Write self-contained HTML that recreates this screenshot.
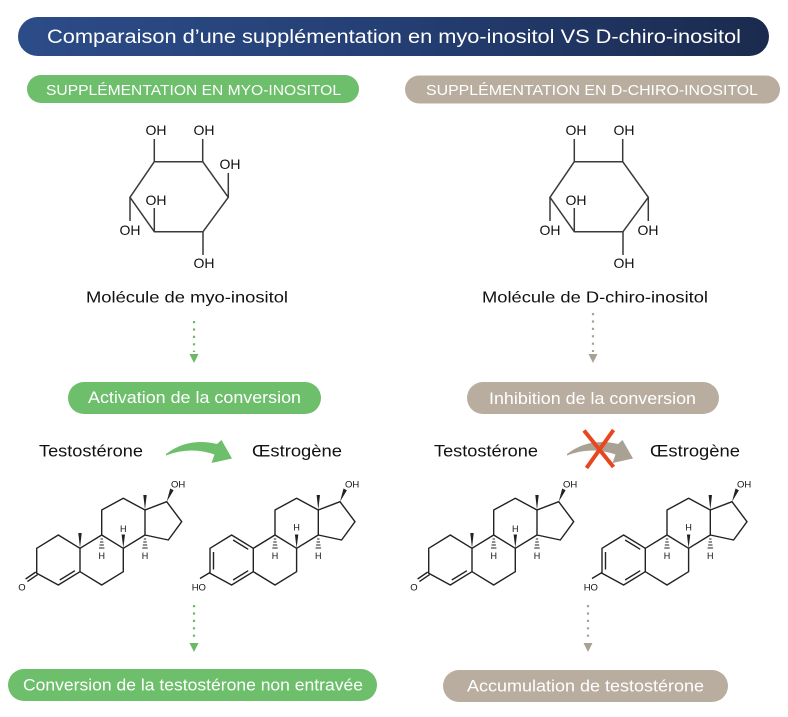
<!DOCTYPE html>
<html>
<head>
<meta charset="utf-8">
<style>
  html,body{margin:0;padding:0;background:#fff;}
  svg{display:block;}
  text{font-family:"Liberation Sans","DejaVu Sans",sans-serif;}
</style>
</head>
<body>
<svg width="788" height="717" viewBox="0 0 788 717" xmlns="http://www.w3.org/2000/svg">
  <defs>
    <linearGradient id="tg" x1="0" y1="0" x2="1" y2="0">
      <stop offset="0" stop-color="#2c4c88"/>
      <stop offset="0.5" stop-color="#243f74"/>
      <stop offset="1" stop-color="#1b2a4e"/>
    </linearGradient>
  </defs>
  <rect width="788" height="717" fill="#fff"/>

  <!-- Title bar -->
  <rect x="18" y="17" width="751" height="39" rx="19.5" fill="url(#tg)"/>
  <text x="47" y="43" font-size="19" fill="#fff" textLength="694" lengthAdjust="spacingAndGlyphs">Comparaison d’une supplémentation en myo-inositol VS D-chiro-inositol</text>

  <!-- Top pills -->
  <rect x="27" y="75" width="332" height="28" rx="14" fill="#6dbf6b"/>
  <text x="46" y="95" font-size="15" fill="#fff" textLength="295" lengthAdjust="spacingAndGlyphs">SUPPLÉMENTATION EN MYO-INOSITOL</text>
  <rect x="405" y="75.5" width="375" height="28" rx="14" fill="#b8ad9e"/>
  <text x="426" y="95" font-size="15" fill="#fff" textLength="332" lengthAdjust="spacingAndGlyphs">SUPPLÉMENTATION EN D-CHIRO-INOSITOL</text>

  <!-- Myo-inositol -->
  <g stroke="#3a3a3a" stroke-width="1.5" fill="none" stroke-linejoin="round">
    <path d="M154.3,161.7 L202.7,161.7 L228.3,197.3 L203,231.7 L154.3,231.7 L130,197.3 Z"/>
    <path d="M154.3,161.7 V139 M202.7,161.7 V139 M228.3,197.3 V173 M154.3,231.7 V208 M130,197.3 V221 M203,231.7 V255"/>
  </g>
  <g font-size="14" fill="#111" text-anchor="middle">
    <text x="156" y="135">OH</text>
    <text x="204" y="135">OH</text>
    <text x="230" y="169">OH</text>
    <text x="156" y="205">OH</text>
    <text x="130" y="235">OH</text>
    <text x="204" y="268">OH</text>
  </g>

  <!-- D-chiro-inositol -->
  <g stroke="#3a3a3a" stroke-width="1.5" fill="none" stroke-linejoin="round">
    <path d="M574.3,161.7 L622.7,161.7 L648.3,197.3 L623,231.7 L574.3,231.7 L550,197.3 Z"/>
    <path d="M574.3,161.7 V139 M622.7,161.7 V139 M648.3,197.3 V221 M574.3,231.7 V208 M550,197.3 V221 M623,231.7 V255"/>
  </g>
  <g font-size="14" fill="#111" text-anchor="middle">
    <text x="576" y="135">OH</text>
    <text x="624" y="135">OH</text>
    <text x="648" y="235">OH</text>
    <text x="576" y="205">OH</text>
    <text x="550" y="235">OH</text>
    <text x="624" y="268">OH</text>
  </g>

  <!-- Molecule labels -->
  <text x="86" y="302.7" font-size="16" fill="#111" textLength="202" lengthAdjust="spacingAndGlyphs">Molécule de myo-inositol</text>
  <text x="482" y="302.7" font-size="16" fill="#111" textLength="226" lengthAdjust="spacingAndGlyphs">Molécule de D-chiro-inositol</text>

  <!-- Dotted arrows top -->
  <line x1="194" y1="321" x2="194" y2="352" stroke="#6cb86a" stroke-width="2.2" stroke-dasharray="2.2 5.2"/>
  <polygon points="189.5,354 198.5,354 194,363" fill="#6cb86a"/>
  <line x1="593" y1="313" x2="593" y2="352" stroke="#aaa195" stroke-width="2.2" stroke-dasharray="2.2 5.2"/>
  <polygon points="588.5,354 597.5,354 593,363" fill="#aaa195"/>

  <!-- Mid pills -->
  <rect x="68" y="382" width="253" height="32" rx="16" fill="#6dbf6b"/>
  <text x="88" y="403" font-size="16.5" fill="#fff" textLength="213" lengthAdjust="spacingAndGlyphs">Activation de la conversion</text>
  <rect x="467" y="382" width="252" height="32" rx="16" fill="#b8ad9e"/>
  <text x="489" y="404" font-size="16.5" fill="#fff" textLength="207" lengthAdjust="spacingAndGlyphs">Inhibition de la conversion</text>

  <!-- Testosterone / Oestrogen labels -->
  <text x="39" y="456.7" font-size="17" fill="#111" textLength="104" lengthAdjust="spacingAndGlyphs">Testostérone</text>
  <text x="252" y="456.7" font-size="17" fill="#111" textLength="90" lengthAdjust="spacingAndGlyphs">Œstrogène</text>
  <text x="434" y="456.7" font-size="17" fill="#111" textLength="104" lengthAdjust="spacingAndGlyphs">Testostérone</text>
  <text x="650" y="456.7" font-size="17" fill="#111" textLength="90" lengthAdjust="spacingAndGlyphs">Œstrogène</text>

  <!-- Curved arrows -->
  <path d="M166,454 Q188,437 217,444 L221.5,440 L232,458.5 L211.5,463 L214.5,454.5 Q190,446 166,455.5 Z" fill="#6dbf6b"/>
  <path d="M567,454 Q589,437 618,444 L622.5,440 L633,458.5 L612.5,463 L615.5,454.5 Q591,446 567,455.5 Z" fill="#aaa195"/>
  <!-- Red X -->
  <g stroke="#e8461e" stroke-width="4" stroke-linecap="butt">
    <line x1="584" y1="430.5" x2="613.5" y2="467"/>
    <line x1="613.5" y1="430" x2="586.5" y2="468"/>
  </g>

  <!-- ===== Testosterone left ===== -->
  <g transform="translate(0,0)">
    <g stroke="#222" stroke-width="1.4" fill="none" stroke-linejoin="round">
      <path d="M80,548.3 L58.3,535 L36.7,548.3 L36.7,573.3 L58.3,585 L80,571.7 Z"/>
      <path d="M59.8,580 L74.9,570.7"/>
      <path d="M37.6,574.6 L27.4,581.6 M35.8,572 L25.6,579"/>
      <path d="M80,548.3 L101.7,535 L123.3,548.3 L123.3,571.7 L101.7,585 L80,571.7"/>
      <path d="M101.7,535 L101.7,510 L123.3,498.3 L145,510 L145,535 L123.3,548.3"/>
      <path d="M145,510 L166.7,501.7 L181.7,521.7 L168.3,540 L145,535"/>
      <path d="M100.5,539 h2.4 M100,542 h3.4 M99.5,545 h4.4 M99,548 h5.4" stroke-width="1"/>
      <path d="M143.8,539 h2.4 M143.3,542 h3.4 M142.8,545 h4.4 M142.3,548 h5.4" stroke-width="1"/>
    </g>
    <g fill="#222">
      <polygon points="80,548.3 78.3,533 81.7,533"/>
      <polygon points="145,510 143.3,495 146.7,495"/>
      <polygon points="166.7,501.7 170.2,488.5 173.6,490.2"/>
      <polygon points="123.3,548.3 121.6,534.5 125,534.5"/>
    </g>
    <g font-size="9.5" fill="#111">
      <text x="18.3" y="590.5">O</text>
      <text x="171" y="487.5">OH</text>
    </g>
    <g font-size="9" fill="#111" text-anchor="middle">
      <text x="101.7" y="558.8">H</text>
      <text x="123.3" y="532">H</text>
      <text x="145" y="558.8">H</text>
    </g>
  </g>

  <!-- ===== Estradiol left ===== -->
  <g transform="translate(173.3,0)">
    <g stroke="#222" stroke-width="1.4" fill="none" stroke-linejoin="round">
      <path d="M80,548.3 L58.3,535 L36.7,548.3 L36.7,573.3 L58.3,585 L80,571.7 Z"/>
      <path d="M59.8,580 L74.9,570.7 M59.8,540 L74.9,549.3 M40.2,552 L40.2,569.5"/>
      <path d="M36.7,572.5 L26.7,578.5"/>
      <path d="M80,548.3 L101.7,535 L123.3,548.3 L123.3,571.7 L101.7,585 L80,571.7"/>
      <path d="M101.7,535 L101.7,510 L123.3,498.3 L145,510 L145,535 L123.3,548.3"/>
      <path d="M145,510 L166.7,501.7 L181.7,521.7 L168.3,540 L145,535"/>
      <path d="M100.5,539 h2.4 M100,542 h3.4 M99.5,545 h4.4 M99,548 h5.4" stroke-width="1"/>
      <path d="M143.8,539 h2.4 M143.3,542 h3.4 M142.8,545 h4.4 M142.3,548 h5.4" stroke-width="1"/>
    </g>
    <g fill="#222">
      <polygon points="145,510 143.3,495 146.7,495"/>
      <polygon points="166.7,501.7 170.2,488.5 173.6,490.2"/>
      <polygon points="123.3,548.3 121.6,534.5 125,534.5"/>
    </g>
    <g font-size="9.5" fill="#111">
      <text x="18.4" y="590.7">HO</text>
      <text x="171.7" y="487.3">OH</text>
    </g>
    <g font-size="9" fill="#111" text-anchor="middle">
      <text x="101.7" y="558.8">H</text>
      <text x="123.3" y="530.5">H</text>
      <text x="145" y="558.8">H</text>
    </g>
  </g>

  <!-- ===== Testosterone right ===== -->
  <g transform="translate(392,0)">
    <g stroke="#222" stroke-width="1.4" fill="none" stroke-linejoin="round">
      <path d="M80,548.3 L58.3,535 L36.7,548.3 L36.7,573.3 L58.3,585 L80,571.7 Z"/>
      <path d="M59.8,580 L74.9,570.7"/>
      <path d="M37.6,574.6 L27.4,581.6 M35.8,572 L25.6,579"/>
      <path d="M80,548.3 L101.7,535 L123.3,548.3 L123.3,571.7 L101.7,585 L80,571.7"/>
      <path d="M101.7,535 L101.7,510 L123.3,498.3 L145,510 L145,535 L123.3,548.3"/>
      <path d="M145,510 L166.7,501.7 L181.7,521.7 L168.3,540 L145,535"/>
      <path d="M100.5,539 h2.4 M100,542 h3.4 M99.5,545 h4.4 M99,548 h5.4" stroke-width="1"/>
      <path d="M143.8,539 h2.4 M143.3,542 h3.4 M142.8,545 h4.4 M142.3,548 h5.4" stroke-width="1"/>
    </g>
    <g fill="#222">
      <polygon points="80,548.3 78.3,533 81.7,533"/>
      <polygon points="145,510 143.3,495 146.7,495"/>
      <polygon points="166.7,501.7 170.2,488.5 173.6,490.2"/>
      <polygon points="123.3,548.3 121.6,534.5 125,534.5"/>
    </g>
    <g font-size="9.5" fill="#111">
      <text x="18.3" y="590.5">O</text>
      <text x="171" y="487.5">OH</text>
    </g>
    <g font-size="9" fill="#111" text-anchor="middle">
      <text x="101.7" y="558.8">H</text>
      <text x="123.3" y="532">H</text>
      <text x="145" y="558.8">H</text>
    </g>
  </g>

  <!-- ===== Estradiol right ===== -->
  <g transform="translate(565.3,0)">
    <g stroke="#222" stroke-width="1.4" fill="none" stroke-linejoin="round">
      <path d="M80,548.3 L58.3,535 L36.7,548.3 L36.7,573.3 L58.3,585 L80,571.7 Z"/>
      <path d="M59.8,580 L74.9,570.7 M59.8,540 L74.9,549.3 M40.2,552 L40.2,569.5"/>
      <path d="M36.7,572.5 L26.7,578.5"/>
      <path d="M80,548.3 L101.7,535 L123.3,548.3 L123.3,571.7 L101.7,585 L80,571.7"/>
      <path d="M101.7,535 L101.7,510 L123.3,498.3 L145,510 L145,535 L123.3,548.3"/>
      <path d="M145,510 L166.7,501.7 L181.7,521.7 L168.3,540 L145,535"/>
      <path d="M100.5,539 h2.4 M100,542 h3.4 M99.5,545 h4.4 M99,548 h5.4" stroke-width="1"/>
      <path d="M143.8,539 h2.4 M143.3,542 h3.4 M142.8,545 h4.4 M142.3,548 h5.4" stroke-width="1"/>
    </g>
    <g fill="#222">
      <polygon points="145,510 143.3,495 146.7,495"/>
      <polygon points="166.7,501.7 170.2,488.5 173.6,490.2"/>
      <polygon points="123.3,548.3 121.6,534.5 125,534.5"/>
    </g>
    <g font-size="9.5" fill="#111">
      <text x="18.4" y="590.7">HO</text>
      <text x="171.7" y="487.3">OH</text>
    </g>
    <g font-size="9" fill="#111" text-anchor="middle">
      <text x="101.7" y="558.8">H</text>
      <text x="123.3" y="530.5">H</text>
      <text x="145" y="558.8">H</text>
    </g>
  </g>

  <!-- Dotted arrows bottom -->
  <line x1="194" y1="605" x2="194" y2="641" stroke="#6cb86a" stroke-width="2.2" stroke-dasharray="2.2 5.2"/>
  <polygon points="189.5,643 198.5,643 194,652" fill="#6cb86a"/>
  <line x1="588" y1="605" x2="588" y2="641" stroke="#aaa195" stroke-width="2.2" stroke-dasharray="2.2 5.2"/>
  <polygon points="583.5,643 592.5,643 588,652" fill="#aaa195"/>

  <!-- Bottom pills -->
  <rect x="8" y="669" width="369" height="32" rx="16" fill="#6dbf6b"/>
  <text x="23" y="690.7" font-size="17" fill="#fff" textLength="340" lengthAdjust="spacingAndGlyphs">Conversion de la testostérone non entravée</text>
  <rect x="443" y="670" width="285" height="32" rx="16" fill="#b8ad9e"/>
  <text x="467" y="691.5" font-size="17" fill="#fff" textLength="237" lengthAdjust="spacingAndGlyphs">Accumulation de testostérone</text>
</svg>
</body>
</html>
